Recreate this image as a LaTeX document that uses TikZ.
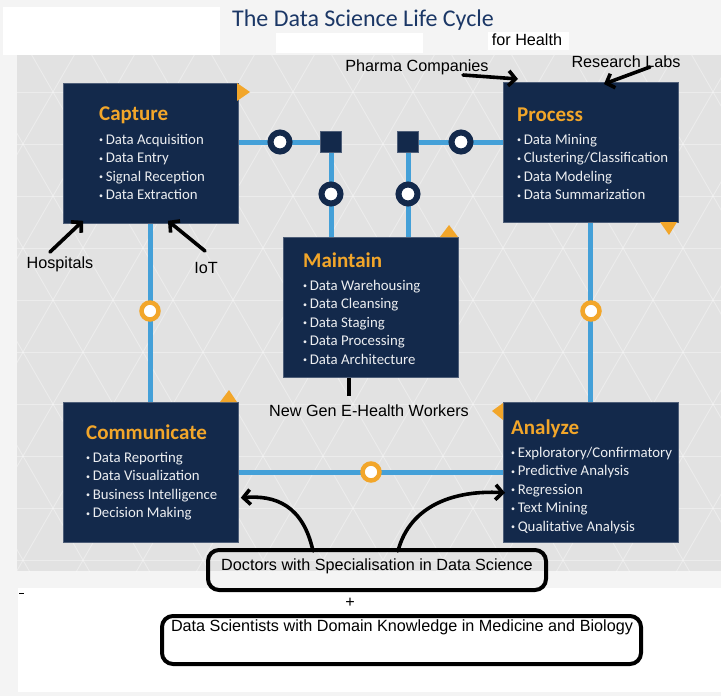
\documentclass[tikz,border=0pt]{standalone}
\usepackage{fontspec}
\setmainfont{Carlito}
\newfontfamily\arialfont{Liberation Sans}
\usetikzlibrary{arrows.meta,calc}
\definecolor{navy}{HTML}{13294B}
\definecolor{titlenavy}{HTML}{1B3766}
\definecolor{amber}{HTML}{F2A62A}
\definecolor{skyline}{HTML}{44A0D8}
\definecolor{paper}{HTML}{F4F4F4}
\definecolor{mesh}{HTML}{E2E2E2}
\pgfdeclarelayer{bg}
\pgfdeclarelayer{lines}
\pgfsetlayers{bg,lines,main}
\tikzset{
  stagebox/.style={fill=navy, draw=navy!75!white, line width=0.8pt, minimum width=175pt, minimum height=140pt, anchor=north west, inner sep=0pt},
  heading/.style={text=amber, font=\fontsize{21}{24}\selectfont\bfseries, anchor=base west, inner sep=0pt},
  itemtxt/.style={text=white!92!navy, font=\fontsize{14.8}{18}\selectfont, anchor=base west, inner sep=0pt},
  conn/.style={draw=skyline, line width=5pt},
  ringnavy/.style={circle, draw=navy, fill=white, line width=6pt, minimum size=19pt, inner sep=0pt},
  ringamber/.style={circle, draw=amber, fill=white, line width=4.5pt, minimum size=17pt, inner sep=0pt},
  joint/.style={fill=navy, draw=navy!75!white, line width=0.5pt, minimum size=21pt, inner sep=0pt},
  marker/.style={fill=amber, draw=none},
  note/.style={font=\arialfont\fontsize{16.2}{19}\selectfont, text=black, inner sep=0pt},
  scribble/.style={draw=black, line width=3.6pt, line cap=round, line join=round, -{Straight Barb[length=7pt,width=15pt,line width=3.6pt]}},
  pill/.style={draw=black, line width=4pt, rounded corners=11pt},
}
\newcommand{\smalldot}{\raisebox{1.2pt}{\fontsize{8}{8}\selectfont\textbullet}\hspace{2.6pt}}
% bullet lines of one stage box: name, heading anchor, first-line offset, items
\newcommand{\stagelist}[4]{%
  \foreach \t [count=\i] in {#4}{
    \node[itemtxt, name=#1-\i] at ($ (#2) + (0,{#3+18.5*(\i-1)}) $) {\smalldot\t};
  }%
}
\begin{document}
\begin{tikzpicture}[x=1pt,y=-1pt]
\useasboundingbox (0,0) rectangle (721,696);

% ---------- backdrop ----------
\begin{pgfonlayer}{bg}
  \fill[paper] (0,0) rectangle (721,696);
  \fill[white] (3,7) rectangle (220,55);
  \fill[white] (276,33) rectangle (423,53);
  \fill[mesh] (17,55) rectangle (721,571);
  \begin{scope}
    \clip (17,55) rectangle (721,571);
    \foreach \k in {-20,...,20}{
      \draw[white, opacity=0.35, line width=0.9pt] (0,{40+\k*52}) -- (760,{40+\k*52});
      \draw[white, opacity=0.35, line width=0.9pt] ({\k*60},0) -- ({\k*60+346},600);
      \draw[white, opacity=0.35, line width=0.9pt] ({\k*60+346},0) -- ({\k*60},600);
    }
  \end{scope}
  \fill[white] (18,588) rectangle (721,692);
  \fill[white] (488,32) rectangle (569,50);
  \draw[black, line width=0.7pt] (19,593) -- (24,593);
\end{pgfonlayer}

% ---------- title ----------
\node[text=titlenavy, font=\fontsize{24}{27}\selectfont, inner sep=0pt] (title) at (363,20) {The Data Science Life Cycle};

% ---------- stage boxes ----------
\node[stagebox] (cap)  at (63,83)   {};
\node[stagebox] (proc) at (503,82)  {};
\node[stagebox] (main) at (283,237) {};
\node[stagebox] (comm) at (63,402)  {};
\node[stagebox] (anal) at (503,402) {};

\coordinate (capT)  at (99,120);
\coordinate (procT) at (517,121);
\coordinate (mainT) at (303,267);
\coordinate (commT) at (86,439);
\coordinate (analT) at (511,434);
\node[heading] (capH)  at (capT)  {Capture};
\node[heading] (procH) at (procT) {Process};
\node[heading] (mainH) at (mainT) {Maintain};
\node[heading] (commH) at (commT) {Communicate};
\node[heading] (analH) at (analT) {Analyze};

\stagelist{capI}{capT}{24}{Data Acquisition,Data Entry,Signal Reception,Data Extraction}
\stagelist{procI}{procT}{23}{Data Mining,Clustering/Classification,Data Modeling,Data Summarization}
\stagelist{mainI}{mainT}{23}{Data Warehousing,Data Cleansing,Data Staging,Data Processing,Data Architecture}
\stagelist{commI}{commT}{23}{Data Reporting,Data Visualization,Business Intelligence,Decision Making}
\stagelist{analI}{analT}{23}{Exploratory/Confirmatory,Predictive Analysis,Regression,Text Mining,Qualitative Analysis}

% corner markers
\fill[marker] (237,83) -- (250,92) -- (237,101) -- cycle;
\fill[marker] (660,222) -- (677,222) -- (669,235) -- cycle;
\fill[marker] (440,237) -- (458,237) -- (449,225) -- cycle;
\fill[marker] (220,402) -- (237,402) -- (229,390) -- cycle;
\fill[marker] (503,403) -- (492,411) -- (503,420) -- cycle;

% ---------- junctions ----------
\node[joint] (sqL) at (331,142) {};
\node[joint] (sqR) at (408,142) {};

% ---------- connectors ----------
\begin{pgfonlayer}{lines}
  \draw[conn] (cap.east |- sqL) -- (sqL);
  \draw[conn] (sqL) -- (sqL |- main.north);
  \draw[conn] (sqR) -- (sqR |- main.north);
  \draw[conn] (sqR) -- (sqR -| proc.west);
  \draw[conn] (cap.south) -- (comm.north);
  \draw[conn] (proc.south) -- (anal.north);
  \draw[conn] (comm.east) -- (anal.west);
\end{pgfonlayer}

\node[ringnavy] (r1) at (280,142) {};
\node[ringnavy] (r2) at (331,194) {};
\node[ringnavy] (r3) at (408,194) {};
\node[ringnavy] (r4) at (461,142) {};
\node[ringamber] (o1) at (150,311) {};
\node[ringamber] (o2) at (591,311) {};
\node[ringamber] (o3) at (371,472) {};

% ---------- annotations ----------
\node[note] (health)   at (527,40)  {for Health};
\node[note] (pharma)   at (417,67)  {Pharma Companies};
\node[note] (labs)     at (626,62)  {Research Labs};
\node[note] (hosp)     at (60,264)  {Hospitals};
\node[note] (iot)      at (206,268) {IoT};
\node[note] (workers)  at (369,411) {New Gen E-Health Workers};
\node[note] (plus)     at (350,603) {+};

\draw[pill] (208,550) rectangle (546,590);
\node[note] (doctors)  at (377,566) {Doctors with Specialisation in Data Science};
\draw[pill] (162,616) rectangle (641,664);
\node[note] (sci)      at (402,627) {Data Scientists with Domain Knowledge in Medicine and Biology};

\coordinate (pharmaTail) at (463,75);
\coordinate (labsTail)   at (650,67);
\coordinate (hospTail)   at (50,252);
\coordinate (iotTail)    at (205,251);
\coordinate (docL) at (313,551);
\coordinate (docR) at (398,551);

\draw[scribble] (pharmaTail) -- ([shift={(15,-3)}]proc.north west);
\draw[scribble] (labsTail) -- ([shift={(101,2)}]proc.north west);
\draw[scribble] (hospTail) -- ([shift={(20,-3)}]cap.south west);
\draw[scribble] (iotTail) -- ([shift={(105,-3)}]cap.south west);
\draw[draw=black, line width=3.6pt] (main.south -| 349,0) -- (349,396);
\draw[scribble] (docL) .. controls (303,505) and (275,495) .. ([shift={(2,-45)}]comm.south east);
\draw[scribble] (docR) .. controls (410,505) and (455,490) .. ([shift={(2,-50)}]anal.south west);
\end{tikzpicture}
\end{document}
